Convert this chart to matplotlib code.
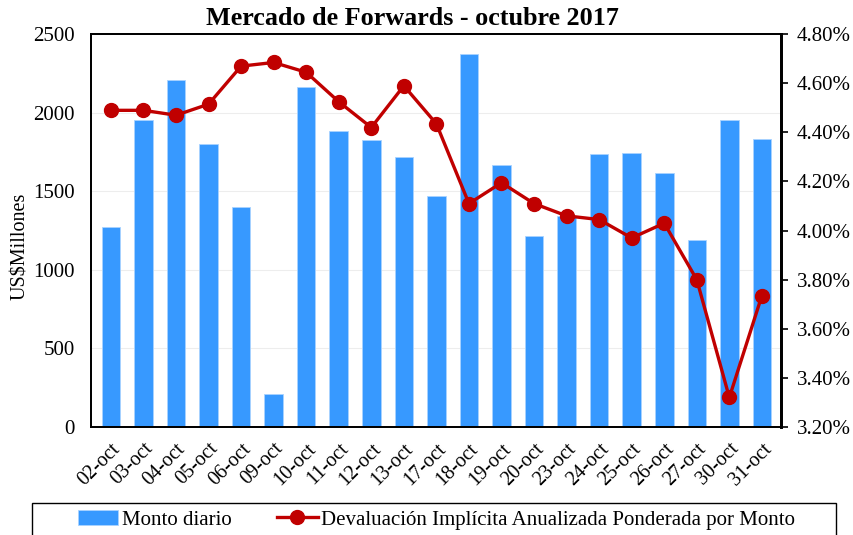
import numpy as np
import matplotlib.pyplot as plt
from matplotlib.patches import Rectangle
from matplotlib.ticker import FuncFormatter, MultipleLocator

plt.rcParams['font.family'] = ['Liberation Serif', 'DejaVu Serif']

fechas = ['02-oct', '03-oct', '04-oct', '05-oct', '06-oct', '09-oct', '10-oct',
          '11-oct', '12-oct', '13-oct', '17-oct', '18-oct', '19-oct', '20-oct',
          '23-oct', '24-oct', '25-oct', '26-oct', '27-oct', '30-oct', '31-oct']
monto = [1276, 1952, 2210, 1799, 1397, 210, 2162, 1882, 1824, 1716, 1467,
         2373, 1665, 1218, 1346, 1735, 1741, 1614, 1188, 1952, 1830]
devaluacion = [4.49, 4.49, 4.47, 4.515, 4.67, 4.685, 4.645, 4.525, 4.42, 4.59,
               4.435, 4.11, 4.195, 4.11, 4.06, 4.045, 3.97, 4.03, 3.80, 3.32, 3.735]

x = np.arange(len(fechas))

fig = plt.figure(figsize=(8.54, 5.35), dpi=100)
ax = fig.add_axes([0.107, 0.202, 0.808, 0.734])
ax2 = ax.twinx()

ax.set_zorder(1)
ax2.set_zorder(2)
ax2.patch.set_visible(False)

bars = ax.bar(x, monto, width=0.57, color='#3799FF', edgecolor='#A9D3FF',
              linewidth=0.6, label='Monto diario', zorder=2)
ax.set_ylim(0, 2500)
ax.yaxis.set_major_locator(MultipleLocator(500))
ax.set_xlim(-0.6, len(fechas) - 0.4)
ax.grid(axis='y', color='#EDEDED', linewidth=0.8, zorder=0)
ax.set_axisbelow(True)
ax.set_ylabel('US$Millones', fontsize=14.5)
ax.yaxis.set_label_coords(-0.089, 0.46)
ax.set_xticks(x)
ax.set_xticklabels(fechas, rotation=45, ha='right', rotation_mode='anchor', fontsize=14.5)
ax.tick_params(axis='x', length=0, pad=9)
ax.tick_params(axis='y', labelsize=15, length=0, pad=12)

line, = ax2.plot(x, devaluacion, color='#C00000', linewidth=2.4, marker='o',
                 markersize=10, label='Devaluación Implícita Anualizada Ponderada por Monto')
ax2.set_ylim(3.2, 4.8)
ax2.yaxis.set_major_locator(MultipleLocator(0.2))
ax2.yaxis.set_major_formatter(FuncFormatter(lambda v, p: '%.2f%%' % v))
ax2.tick_params(axis='y', labelsize=15, direction='out', length=5, width=1.2, pad=6)

for a in (ax, ax2):
    for s in a.spines.values():
        s.set_linewidth(1.3)
ax.spines['right'].set_linewidth(2)
ax2.spines['right'].set_linewidth(2)

fig.text(0.483, 0.953, 'Mercado de Forwards - octubre 2017', fontsize=18.8,
         fontweight='bold', ha='center', va='baseline')

# legend with wide excel-like frame
leg = fig.legend(handles=[bars, line], loc='upper center', ncol=2,
                 bbox_to_anchor=(0.511, 0.06), fontsize=15, frameon=False,
                 borderpad=0.35, columnspacing=2.2, handlelength=1.95,
                 handletextpad=0.15, borderaxespad=0)
fig.patches.append(Rectangle((0.0375, -0.02), 0.9415, 0.0795, transform=fig.transFigure,
                             fill=False, edgecolor='black', linewidth=1.0))

fig.savefig('out.png', dpi=100)
